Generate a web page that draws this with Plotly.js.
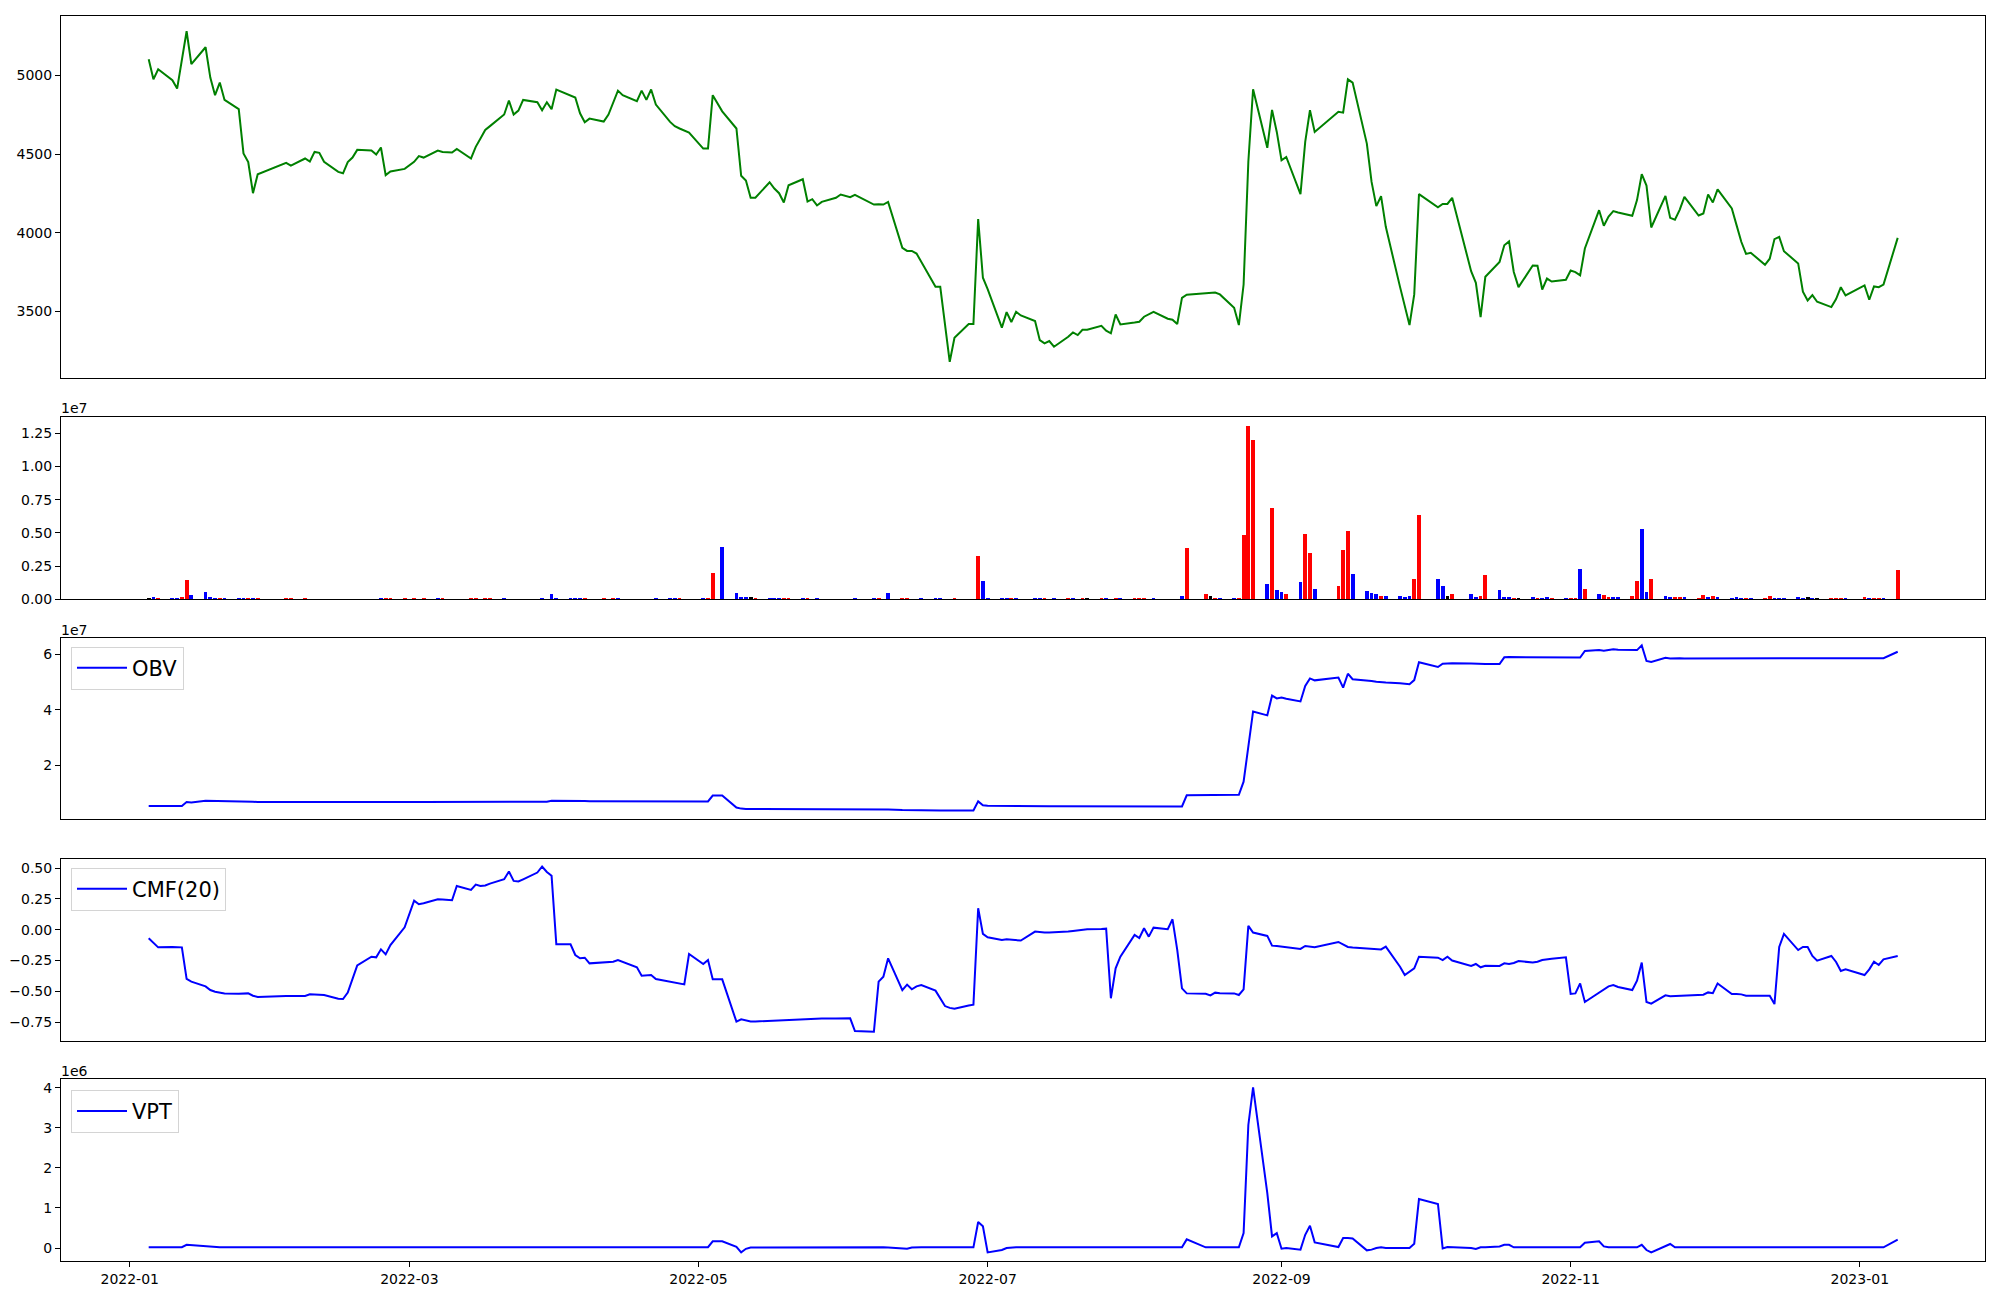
<!DOCTYPE html>
<html><head><meta charset="utf-8">
<script src="https://cdn.plot.ly/plotly-3.0.1.min.js"></script>
<style>html,body{margin:0;padding:0;background:#fff}#chart{width:2000px;height:1300px}</style>
</head><body><div id="chart"></div>
<script>
// Trading days
const dates = [
'2022-01-05','2022-01-06','2022-01-07','2022-01-10','2022-01-11','2022-01-12','2022-01-13','2022-01-14','2022-01-17','2022-01-18','2022-01-19','2022-01-20','2022-01-21','2022-01-24','2022-01-25','2022-01-26','2022-01-27','2022-01-28',
'2022-02-03','2022-02-04','2022-02-07','2022-02-08','2022-02-09','2022-02-10','2022-02-11','2022-02-14','2022-02-15','2022-02-16','2022-02-17','2022-02-18','2022-02-21','2022-02-22','2022-02-23','2022-02-24','2022-02-25','2022-02-28',
'2022-03-02','2022-03-03','2022-03-04','2022-03-07','2022-03-08','2022-03-10','2022-03-11','2022-03-14','2022-03-15','2022-03-16','2022-03-17','2022-03-18','2022-03-21','2022-03-22','2022-03-23','2022-03-24','2022-03-25','2022-03-28','2022-03-29','2022-03-30','2022-03-31',
'2022-04-01','2022-04-04','2022-04-05','2022-04-06','2022-04-07','2022-04-08','2022-04-11','2022-04-12','2022-04-13','2022-04-14','2022-04-15','2022-04-18','2022-04-19','2022-04-20','2022-04-21','2022-04-22','2022-04-25','2022-04-26','2022-04-27','2022-04-28','2022-04-29',
'2022-05-02','2022-05-03','2022-05-04','2022-05-06','2022-05-09','2022-05-10','2022-05-11','2022-05-12','2022-05-13','2022-05-16','2022-05-17','2022-05-18','2022-05-19','2022-05-20','2022-05-23','2022-05-24','2022-05-25','2022-05-26','2022-05-27','2022-05-30','2022-05-31',
'2022-06-02','2022-06-03','2022-06-07','2022-06-08','2022-06-09','2022-06-10','2022-06-13','2022-06-14','2022-06-15','2022-06-16','2022-06-17','2022-06-20','2022-06-21','2022-06-22','2022-06-23','2022-06-24','2022-06-27','2022-06-28','2022-06-29','2022-06-30',
'2022-07-01','2022-07-04','2022-07-05','2022-07-06','2022-07-07','2022-07-08','2022-07-11','2022-07-12','2022-07-13','2022-07-14','2022-07-15','2022-07-18','2022-07-19','2022-07-20','2022-07-21','2022-07-22','2022-07-25','2022-07-26','2022-07-27','2022-07-28','2022-07-29',
'2022-08-01','2022-08-02','2022-08-03','2022-08-04','2022-08-05','2022-08-08','2022-08-09','2022-08-10','2022-08-11','2022-08-12','2022-08-16','2022-08-17','2022-08-18','2022-08-19','2022-08-22','2022-08-23','2022-08-24','2022-08-25','2022-08-26','2022-08-29','2022-08-30','2022-08-31',
'2022-09-01','2022-09-02','2022-09-05','2022-09-06','2022-09-07','2022-09-08','2022-09-13','2022-09-14','2022-09-15','2022-09-16','2022-09-19','2022-09-20','2022-09-21','2022-09-22','2022-09-23','2022-09-26','2022-09-27','2022-09-28','2022-09-29','2022-09-30',
'2022-10-04','2022-10-05','2022-10-06','2022-10-07','2022-10-11','2022-10-12','2022-10-13','2022-10-14','2022-10-17','2022-10-18','2022-10-19','2022-10-20','2022-10-21','2022-10-24','2022-10-25','2022-10-26','2022-10-27','2022-10-28','2022-10-31',
'2022-11-01','2022-11-02','2022-11-03','2022-11-04','2022-11-07','2022-11-08','2022-11-09','2022-11-10','2022-11-11','2022-11-14','2022-11-15','2022-11-16','2022-11-17','2022-11-18','2022-11-21','2022-11-22','2022-11-23','2022-11-24','2022-11-25','2022-11-28','2022-11-29','2022-11-30',
'2022-12-01','2022-12-02','2022-12-05','2022-12-06','2022-12-07','2022-12-08','2022-12-09','2022-12-12','2022-12-13','2022-12-14','2022-12-15','2022-12-16','2022-12-19','2022-12-20','2022-12-21','2022-12-22','2022-12-23','2022-12-26','2022-12-27','2022-12-28','2022-12-29',
'2023-01-02','2023-01-03','2023-01-04','2023-01-05','2023-01-06','2023-01-09'
];

const price = [
5104,4976,5040,4970,4917,5100,5282,5072,5180,4987,4875,4955,4845,4786,4504,4449,4251,4372,
4444,4427,4472,4453,4514,4508,4451,4387,4378,4449,4478,4527,4523,4497,4542,4366,4389,4406,
4451,4487,4478,4523,4514,4510,4533,4472,4546,4599,4654,4678,4752,4841,4752,4777,4845,4830,4779,4830,4786,
4911,4873,4860,4760,4703,4726,4707,4752,4832,4904,4875,4837,4904,4845,4911,4815,4705,4678,4663,4650,4637,
4535,4535,4875,4772,4663,4362,4332,4222,4222,4321,4281,4251,4192,4302,4340,4198,4213,4173,4196,4222,4243,
4226,4241,4179,4181,4179,4196,3904,3884,3884,3867,3815,3655,3655,3416,3178,3331,3418,3418,4086,3713,
3641,3395,3494,3431,3496,3473,3437,3316,3295,3310,3274,3337,3365,3348,3382,3382,3407,3376,3359,3479,3416,
3428,3433,3465,3481,3496,3452,3446,3418,3585,3605,3613,3619,3619,3607,3522,3412,3670,4451,4913,4540,4781,4641,
4461,4482,4245,4578,4779,4641,4769,4764,4976,4955,4567,4323,4169,4232,4037,3655,3531,3412,3607,4245,
4162,4183,4183,4222,3755,3681,3463,3719,3814,3920,3944,3750,3653,3791,3789,3638,3708,3689,3700,
3759,3749,3728,3899,4143,4044,4103,4137,4128,4107,4207,4372,4300,4033,4234,4094,4082,4145,4228,4109,4122,4243,
4192,4275,4154,4048,3942,3865,3872,3795,3834,3959,3973,3882,3804,3624,3568,3602,3560,3526,3577,3653,3600,
3664,3573,3658,3653,3670,3967
];

const volume = [
90000,190000,120000,120000,100000,200000,1460000,300000,550000,200000,100000,100000,100000,100000,100000,100000,120000,100000,
100000,100000,60000,20000,15000,20000,15000,20000,10000,15000,20000,10000,15000,20000,60000,60000,60000,60000,
60000,15000,60000,60000,60000,10000,10000,60000,60000,15000,60000,60000,60000,15000,20000,15000,20000,15000,60000,20000,380000,
60000,60000,60000,60000,60000,15000,60000,15000,60000,60000,10000,15000,10000,20000,15000,60000,60000,60000,60000,15000,15000,
60000,60000,1980000,3940000,500000,180000,180000,180000,80000,80000,60000,60000,60000,60000,60000,60000,15000,60000,15000,10000,15000,
15000,60000,60000,60000,20000,500000,60000,60000,20000,20000,60000,60000,60000,20000,20000,60000,20000,20000,3290000,1380000,
100000,80000,60000,60000,60000,15000,60000,60000,60000,15000,60000,60000,60000,15000,60000,60000,60000,60000,15000,60000,60000,
60000,60000,60000,15000,60000,15000,15000,20000,250000,3870000,400000,250000,60000,60000,60000,60000,4840000,13050000,12000000,1150000,6880000,700000,
550000,400000,1300000,4920000,3490000,780000,1000000,3710000,5150000,1910000,630000,480000,400000,250000,250000,250000,180000,250000,1530000,6350000,
1530000,1000000,250000,400000,400000,180000,250000,1830000,700000,180000,180000,100000,100000,180000,100000,100000,180000,100000,100000,
100000,120000,2280000,780000,400000,330000,180000,180000,180000,250000,1380000,5300000,550000,1530000,250000,180000,180000,180000,180000,100000,330000,180000,
250000,180000,100000,180000,100000,100000,100000,100000,250000,100000,100000,100000,180000,100000,180000,100000,100000,100000,100000,100000,100000,
180000,100000,100000,60000,60000,2200000
];

// bar colour class: u = red, d = blue, n = black
const direction = [
'n','d','u','d','d','u','u','d','d','d','d','u','d','d','d','u','d','u',
'u','u','u','d','u','d','d','u','d','u','u','d','u','d','d','u','u','u',
'u','d','u','d','u','u','d','u','u','d','u','u','d','u','d','u','d','u','d','d','d',
'd','d','d','d','u','d','u','u','u','d','u','d','u','d','u','d','d','d','u','d','u',
'd','u','u','d','d','d','d','n','u','d','d','d','u','u','d','u','d','d','u','d','u',
'u','d','d','u','d','d','u','u','d','u','d','d','d','u','d','u','d','u','u','d',
'd','d','d','u','d','u','d','d','u','d','d','u','d','u','u','n','u','d','u','u','d',
'u','u','u','d','d','u','d','d','d','u','u','n','u','d','d','u','u','u','u','d','u','d',
'd','u','d','u','u','d','u','u','u','d','d','d','d','u','d','d','d','d','u','u',
'd','d','n','u','d','d','u','u','d','d','d','u','n','d','u','d','d','u','d',
'u','u','d','u','d','u','u','d','d','u','u','d','d','u','d','d','u','u','d','u','u','d',
'u','d','d','d','d','u','d','u','u','d','d','d','d','d','n','d','n','u','u','u','d',
'u','d','u','u','d','u'
];

const obv = [
5350000,5350000,5350000,5350000,5350000,5350000,6800000,6600000,7270000,7200000,7150000,7100000,7050000,7000000,6950000,6900000,6850000,6800000,
6750000,6720000,6700000,6700000,6700000,6700000,6700000,6700000,6700000,6700000,6700000,6720000,6720000,6720000,6720000,6750000,6750000,6750000,
6750000,6750000,6780000,6780000,6800000,6800000,6800000,6800000,6820000,6840000,6840000,6860000,6860000,6880000,6880000,6900000,6900000,6900000,6900000,6900000,7200000,
7150000,7120000,7100000,7100000,7100000,7080000,7080000,7100000,7100000,7120000,7120000,7100000,7100000,7080000,7080000,7060000,7050000,7050000,7040000,7030000,7020000,
7000000,7000000,9100000,9100000,4800000,4400000,4300000,4300000,4300000,4320000,4320000,4300000,4300000,4320000,4320000,4300000,4300000,4300000,4300000,4300000,4300000,
4300000,4280000,4280000,4280000,4250000,4100000,3900000,3850000,3850000,3830000,3800000,3780000,3760000,3750000,3750000,3730000,3700000,3700000,7000000,5600000,
5450000,5350000,5330000,5320000,5320000,5300000,5300000,5300000,5280000,5280000,5280000,5270000,5270000,5260000,5260000,5250000,5250000,5240000,5240000,5230000,5230000,
5220000,5220000,5210000,5210000,5200000,5200000,5200000,5200000,5200000,9200000,9250000,9300000,9300000,9350000,9350000,9400000,14100000,27200000,39400000,38000000,45100000,44100000,
44400000,44000000,43000000,48600000,51300000,50600000,51600000,48000000,53000000,51000000,50700000,50400000,50100000,49900000,49800000,49600000,49400000,49200000,50700000,57100000,
55400000,56600000,56700000,56800000,56700000,56600000,56500000,56500000,56500000,58900000,59000000,59000000,58900000,58900000,58900000,58800000,58800000,58800000,58800000,
58800000,58800000,58800000,61200000,61500000,61300000,61600000,61800000,61600000,61500000,61500000,63200000,57600000,57200000,58700000,58500000,58600000,58600000,58500000,58500000,58600000,58600000,
58600000,58600000,58500000,58500000,58400000,58400000,58500000,58500000,58600000,58600000,58500000,58500000,58500000,58500000,58500000,58500000,58500000,58500000,58500000,58500000,58500000,
58500000,58500000,58500000,58500000,58600000,60900000
];

const cmf = [
-0.069,-0.11,-0.143,-0.140,-0.140,-0.143,-0.400,-0.422,-0.46,-0.49,-0.503,-0.51,-0.517,-0.520,-0.52,-0.517,-0.536,-0.547,
-0.538,-0.538,-0.538,-0.525,-0.525,-0.525,-0.530,-0.56,-0.563,-0.511,-0.40,-0.289,-0.219,-0.224,-0.159,-0.200,-0.124,0.020,
0.237,0.207,0.215,0.248,0.245,0.240,0.356,0.324,0.367,0.355,0.36,0.375,0.411,0.473,0.397,0.392,0.41,0.465,0.514,0.47,0.438,
-0.118,-0.118,-0.205,-0.232,-0.227,-0.273,-0.267,-0.265,-0.26,-0.246,-0.26,-0.305,-0.373,-0.37,-0.368,-0.40,-0.42,-0.427,-0.435,-0.444,-0.197,
-0.278,-0.246,-0.403,-0.403,-0.747,-0.728,-0.735,-0.745,-0.745,-0.74,-0.739,-0.735,-0.73,-0.728,-0.725,-0.722,-0.72,-0.722,-0.722,-0.722,-0.722,
-0.72,-0.823,-0.829,-0.422,-0.381,-0.232,-0.49,-0.446,-0.484,-0.46,-0.449,-0.495,-0.56,-0.620,-0.635,-0.642,-0.615,-0.609,0.175,-0.034,
-0.061,-0.083,-0.078,-0.08,-0.085,-0.088,-0.015,-0.02,-0.023,-0.022,-0.021,-0.015,-0.01,-0.005,0.003,0.004,0.007,0.009,-0.557,-0.313,-0.219,
-0.042,-0.067,0.012,-0.056,0.017,0.004,0.085,-0.164,-0.476,-0.517,-0.520,-0.533,-0.511,-0.515,-0.517,-0.530,-0.484,0.031,-0.023,-0.050,-0.129,-0.133,
-0.137,-0.145,-0.156,-0.132,-0.138,-0.143,-0.099,-0.12,-0.14,-0.145,-0.150,-0.153,-0.156,-0.160,-0.137,-0.300,-0.368,-0.34,-0.313,-0.219,
-0.227,-0.246,-0.219,-0.25,-0.294,-0.278,-0.305,-0.292,-0.294,-0.273,-0.278,-0.27,-0.254,-0.267,-0.26,-0.246,-0.24,-0.235,-0.224,
-0.522,-0.517,-0.436,-0.587,-0.512,-0.49,-0.46,-0.449,-0.465,-0.490,-0.414,-0.267,-0.587,-0.601,-0.533,-0.54,-0.538,-0.535,-0.533,-0.530,-0.528,-0.509,
-0.515,-0.436,-0.522,-0.522,-0.525,-0.536,-0.536,-0.536,-0.536,-0.604,-0.140,-0.034,-0.165,-0.14,-0.140,-0.213,-0.251,-0.213,-0.262,-0.335,-0.322,
-0.368,-0.322,-0.259,-0.286,-0.240,-0.213
];

const vpt = [
17000,17000,17000,17000,17000,20000,80000,70000,50000,35000,25000,20000,20000,18000,18000,18000,18000,18000,
18000,18000,18000,18000,18000,18000,18000,18000,18000,18000,18000,18000,18000,18000,18000,18000,18000,18000,
18000,18000,18000,18000,18000,18000,18000,18000,18000,18000,18000,18000,18000,18000,18000,18000,18000,18000,18000,18000,30000,
28000,25000,22000,20000,20000,20000,20000,20000,20000,20000,20000,20000,20000,20000,20000,20000,20000,20000,20000,20000,20000,
20000,20000,166000,166000,30000,-108000,-20000,10000,15000,17000,17000,17000,17000,17000,17000,17000,17000,17000,17000,17000,17000,
17000,17000,17000,17000,17000,10000,-20000,-20000,10000,17000,17000,17000,17000,17000,17000,17000,17000,17000,650000,540000,
-110000,-50000,0,17000,17000,17000,17000,17000,17000,17000,17000,17000,17000,17000,17000,17000,17000,17000,17000,17000,17000,
17000,17000,17000,17000,17000,17000,17000,17000,17000,216000,17000,17000,17000,17000,17000,17000,373000,3070000,4010000,1370000,290000,370000,
-17000,0,-40000,330000,556000,141000,25000,250000,250000,240000,-58000,-40000,0,17000,0,0,0,0,108000,1220000,
1100000,-10000,25000,20000,0,-25000,17000,17000,40000,80000,80000,17000,17000,17000,17000,17000,17000,17000,17000,
17000,17000,17000,130000,166000,40000,17000,17000,17000,17000,17000,80000,-50000,-108000,58000,100000,17000,17000,17000,17000,17000,17000,
17000,17000,17000,17000,17000,17000,17000,17000,17000,17000,17000,17000,17000,17000,17000,17000,17000,17000,17000,17000,17000,
17000,17000,17000,17000,17000,207000
];

const xTickVals = ['2022-01-01','2022-03-01','2022-05-01','2022-07-01','2022-09-01','2022-11-01','2023-01-01'];
const xTickText = ['2022-01','2022-03','2022-05','2022-07','2022-09','2022-11','2023-01'];
const priceTicks = [3500,4000,4500,5000];
const priceTickText = ['3500','4000','4500','5000'];
const volTicks = [0,2500000,5000000,7500000,10000000,12500000];
const volTickText = ['0.00','0.25','0.50','0.75','1.00','1.25'];
const obvTicks = [20000000,40000000,60000000];
const obvTickText = ['2','4','6'];
const cmfTicks = [-0.75,-0.5,-0.25,0,0.25,0.5];
const cmfTickText = ['\u22120.75','\u22120.50','\u22120.25','0.00','0.25','0.50'];
const vptTicks = [0,1000000,2000000,3000000,4000000];
const vptTickText = ['0','1','2','3','4'];

const colorOf = {u:'red', d:'blue', n:'black'};
const barColors = direction.map(k => colorOf[k]);

const traces = [
  {x: dates, y: price, type:'scatter', mode:'lines', line:{color:'green', width:2}, xaxis:'x', yaxis:'y', showlegend:false, name:'Price'},
  {x: dates, y: volume, type:'bar', marker:{color: barColors, line:{width:0}}, width: 69120000, xaxis:'x2', yaxis:'y2', showlegend:false, name:'Volume'},
  {x: dates, y: obv, type:'scatter', mode:'lines', line:{color:'blue', width:2}, xaxis:'x3', yaxis:'y3', name:'OBV', legend:'legend'},
  {x: dates, y: cmf, type:'scatter', mode:'lines', line:{color:'blue', width:2}, xaxis:'x4', yaxis:'y4', name:'CMF(20)', legend:'legend2'},
  {x: dates, y: vpt, type:'scatter', mode:'lines', line:{color:'blue', width:2}, xaxis:'x5', yaxis:'y5', name:'VPT', legend:'legend3'}
];

const xRange = ['2021-12-17 12:00','2023-01-27 10:00'];
function xa(showLabels){
  return {type:'date', range:xRange, domain:[0,1], tickvals:xTickVals, ticktext:xTickText, showticklabels:showLabels,
    ticks: showLabels ? 'outside' : '', ticklen:5, tickwidth:1, tickcolor:'black', showline:true, mirror:true, linecolor:'black', linewidth:1,
    showgrid:false, zeroline:false, tickfont:{size:14, color:'black'}};
}
function ya(domain, range, tv, tt){
  return {domain:domain, range:range, tickvals:tv, ticktext:tt, ticks:'outside', ticklen:5, tickwidth:1, tickcolor:'black',
    showline:true, mirror:true, linecolor:'black', linewidth:1, showgrid:false, zeroline:false, tickfont:{size:14, color:'black'}};
}
function leg(yTop){
  return {x:0.0052, y:yTop, xanchor:'left', yanchor:'top', xref:'paper', yref:'paper', bgcolor:'rgba(255,255,255,0.8)',
    bordercolor:'#d4d4d4', borderwidth:1, font:{size:21, color:'black'}, itemwidth:50};
}

const layout = {
  width:2000, height:1300, paper_bgcolor:'white', plot_bgcolor:'white',
  margin:{l:61, r:15, t:16, b:39},
  font:{family:'DejaVu Sans', size:14, color:'black'},
  bargap:0,
  xaxis: Object.assign(xa(false), {anchor:'y'}),
  xaxis2: Object.assign(xa(false), {anchor:'y2', matches:'x'}),
  xaxis3: Object.assign(xa(false), {anchor:'y3', matches:'x'}),
  xaxis4: Object.assign(xa(false), {anchor:'y4', matches:'x'}),
  xaxis5: Object.assign(xa(true), {anchor:'y5', matches:'x'}),
  yaxis: Object.assign(ya([0.7090,1.0],[3073,5379],priceTicks,priceTickText), {anchor:'x'}),
  yaxis2: Object.assign(ya([0.5315,0.6777],[0,13705000],volTicks,volTickText), {anchor:'x2'}),
  yaxis3: Object.assign(ya([0.3550,0.5002],[650000,65770000],obvTicks,obvTickText), {anchor:'x3'}),
  yaxis4: Object.assign(ya([0.1769,0.3227],[-0.902,0.573],cmfTicks,cmfTickText), {anchor:'x4'}),
  yaxis5: Object.assign(ya([0,0.1459],[-324000,4209000],vptTicks,vptTickText), {anchor:'x5'}),
  showlegend:true,
  legend: leg(0.4934),
  legend2: leg(0.3159),
  legend3: leg(0.1375),
  annotations:[
    {text:'1e7', xref:'paper', yref:'paper', x:0, y:0.6851, xanchor:'left', yanchor:'middle', showarrow:false, font:{size:14}, xshift:-2},
    {text:'1e7', xref:'paper', yref:'paper', x:0, y:0.5072, xanchor:'left', yanchor:'middle', showarrow:false, font:{size:14}, xshift:-2},
    {text:'1e6', xref:'paper', yref:'paper', x:0, y:0.1526, xanchor:'left', yanchor:'middle', showarrow:false, font:{size:14}, xshift:-2}
  ]
};

Plotly.newPlot('chart', traces, layout, {displayModeBar:false, staticPlot:true});
</script>
</body></html>
